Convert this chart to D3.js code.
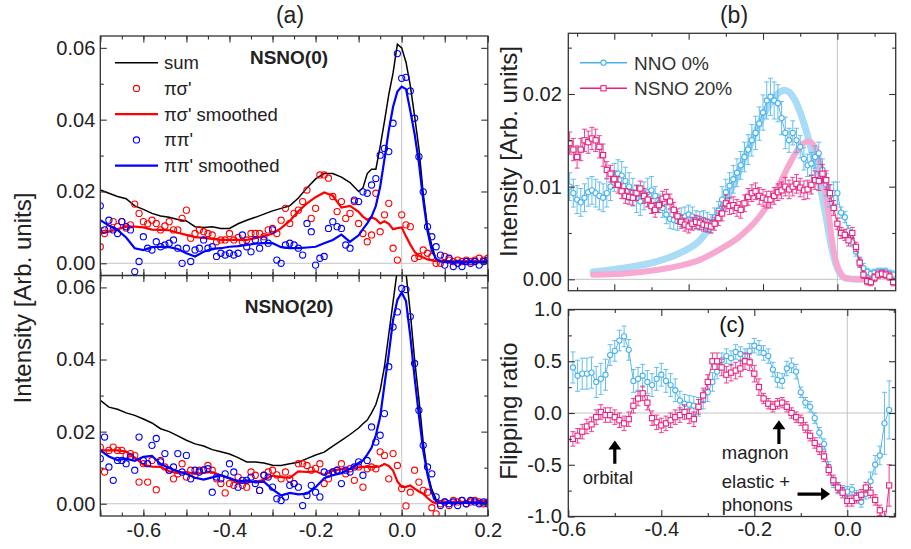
<!DOCTYPE html>
<html>
<head>
<meta charset="utf-8">
<script src="https://cdnjs.cloudflare.com/ajax/libs/d3/7.8.5/d3.min.js"></script>
<style>
body { margin: 0; background: #fff; }
svg { font-family: "Liberation Sans", Arial, sans-serif; }
</style>
</head>
<body>
<svg id="chart" width="911" height="549"></svg>
<script>
// ---------- panel (a): energy grid of the scans and the data ----------
const energyA = d3.range(-70, 21).map(v => v / 100);

const psTop = [0.0046,0.0083,0.0097,0.0116,0.0102,0.0116,0.0098,0.0107,0.0165,0.0139,
  0.0116,0.0110,0.0120,0.0111,0.0093,0.0104,0.0116,0.0093,0.0093,0.0125,
  0.0148,0.0070,0.0083,0.0093,0.0088,0.0083,0.0079,0.0060,0.0065,0.0065,
  0.0083,0.0065,0.0072,0.0060,0.0065,0.0083,0.0083,0.0083,0.0074,0.0093,
  0.0097,0.0083,0.0120,0.0153,0.0111,0.0139,0.0148,0.0172,0.0204,0.0125,
  0.0153,0.0246,0.0246,0.0237,0.0186,0.0144,0.0172,0.0125,0.0139,0.0172,
  0.0111,0.0083,0.0060,0.0079,0.0195,0.0088,0.0135,0.0167,0.0042,0.0009,
  0.0135,0.0107,0.0102,0.0014,0.0019,0.0037,0.0028,0.0019,0.0000,0.0000,
  0.0019,0.0009,0.0005,0.0009,0.0005,0.0009,0.0005,0.0009,0.0014,0.0009,
  0.0014];
const ppTop = [0.0160,0.0093,0.0120,0.0093,0.0083,0.0116,0.0102,0.0093,-0.0023,0.0005,
  0.0074,0.0042,0.0037,0.0060,0.0046,0.0051,0.0056,0.0065,0.0042,0.0000,
  0.0042,0.0005,0.0037,0.0042,0.0065,0.0042,0.0046,0.0019,0.0028,0.0023,
  0.0028,0.0023,0.0028,0.0079,0.0046,0.0032,0.0065,0.0042,0.0065,0.0056,
  0.0093,0.0009,0.0000,0.0051,0.0056,0.0051,0.0042,0.0023,0.0111,0.0088,
  -0.0005,0.0014,0.0019,0.0097,0.0116,0.0102,0.0097,0.0051,0.0042,0.0176,
  0.0172,0.0199,0.0195,0.0218,0.0236,0.0301,0.0320,0.0311,0.0390,0.0584,
  0.0515,0.0518,0.0480,0.0404,0.0297,0.0199,0.0102,0.0074,0.0046,0.0023,
  -0.0005,0.0014,-0.0009,0.0000,-0.0009,0.0005,0.0000,0.0005,-0.0005,0.0005,
  0.0009];
const psBot = [0.0157,0.0088,0.0148,0.0157,0.0148,0.0148,0.0134,0.0139,0.0134,0.0060,
  0.0111,0.0060,0.0120,0.0039,0.0120,0.0102,0.0093,0.0069,0.0083,0.0111,
  0.0074,0.0093,0.0079,0.0093,0.0093,0.0106,0.0093,0.0069,0.0056,0.0030,
  0.0056,0.0051,0.0074,0.0051,0.0046,0.0088,0.0079,0.0037,0.0079,0.0088,
  0.0093,0.0080,0.0069,0.0088,0.0069,0.0056,0.0111,0.0111,0.0106,0.0093,
  0.0098,0.0111,0.0056,0.0069,0.0088,0.0093,0.0111,0.0083,0.0097,0.0065,
  0.0102,0.0046,0.0097,0.0102,0.0097,0.0144,0.0134,0.0069,0.0139,0.0106,
  0.0042,-0.0006,0.0032,0.0093,0.0060,0.0037,0.0032,-0.0011,-0.0028,0.0000,
  0.0005,-0.0005,0.0009,0.0005,0.0009,0.0000,0.0005,0.0009,0.0005,0.0000,
  0.0005];
const ppBot = [0.0125,0.0185,0.0102,0.0065,0.0120,0.0120,0.0111,0.0130,0.0093,0.0185,
  0.0120,0.0111,0.0162,0.0181,0.0116,0.0139,0.0093,0.0102,0.0139,0.0088,
  0.0134,0.0069,0.0093,0.0088,0.0094,0.0097,0.0032,0.0074,0.0069,0.0083,
  0.0111,0.0088,0.0046,0.0065,0.0065,0.0074,0.0056,0.0037,0.0079,0.0074,
  0.0046,0.0014,0.0009,0.0019,0.0051,0.0056,0.0046,-0.0005,0.0023,0.0051,
  0.0032,0.0019,0.0088,0.0083,0.0088,0.0093,0.0056,0.0093,0.0088,0.0102,
  0.0116,0.0079,0.0120,0.0213,0.0171,0.0190,0.0250,0.0380,0.0490,0.0532,
  0.0597,0.0594,0.0519,0.0389,0.0259,0.0162,0.0102,0.0083,0.0019,-0.0005,
  0.0005,0.0000,0.0005,-0.0005,0.0009,0.0000,0.0009,0.0005,0.0000,0.0005,
  0.0000];

// sum and smoothed curves, sampled on this energy list
const lineX = [-0.70,-0.68,-0.66,-0.64,-0.62,-0.60,-0.58,-0.56,-0.54,-0.52,
  -0.50,-0.48,-0.46,-0.44,-0.42,-0.40,-0.38,-0.36,-0.34,-0.32,
  -0.30,-0.28,-0.26,-0.24,-0.22,-0.20,-0.18,-0.16,-0.14,-0.12,
  -0.10,-0.09,-0.08,-0.07,-0.06,-0.05,-0.04,-0.03,-0.02,-0.01,
  0.00,0.01,0.02,0.03,0.04,0.05,0.06,0.07,0.08,0.09,
  0.10,0.12,0.14,0.16,0.18,0.20];
const sumTop = [0.0204,0.0195,0.0186,0.0180,0.0160,0.0150,0.0139,0.0132,0.0128,0.0122,
  0.0118,0.0102,0.0100,0.0102,0.0097,0.0097,0.0110,0.0120,0.0128,0.0137,
  0.0146,0.0153,0.0160,0.0182,0.0210,0.0235,0.0250,0.0250,0.0240,0.0225,
  0.0200,0.0210,0.0250,0.0262,0.0262,0.0325,0.0395,0.0470,0.0530,0.0610,
  0.0600,0.0560,0.0495,0.0410,0.0320,0.0195,0.0100,0.0050,0.0010,0.0008,
  0.0008,0.0006,0.0006,0.0006,0.0007,0.0007];
const psSmTop = [0.0083,0.0088,0.0095,0.0102,0.0102,0.0100,0.0094,0.0093,0.0092,0.0085,
  0.0079,0.0073,0.0071,0.0068,0.0065,0.0065,0.0065,0.0065,0.0070,0.0076,
  0.0082,0.0098,0.0118,0.0145,0.0167,0.0184,0.0197,0.0188,0.0155,0.0160,
  0.0143,0.0130,0.0121,0.0128,0.0123,0.0111,0.0117,0.0110,0.0095,0.0098,
  0.0100,0.0075,0.0052,0.0032,0.0021,0.0016,0.0011,0.0008,0.0006,0.0006,
  0.0005,0.0005,0.0005,0.0006,0.0006,0.0006];
const ppSmTop = [0.0120,0.0105,0.0093,0.0072,0.0042,0.0037,0.0045,0.0046,0.0045,0.0040,
  0.0028,0.0019,0.0032,0.0040,0.0042,0.0046,0.0048,0.0051,0.0055,0.0056,
  0.0056,0.0045,0.0042,0.0042,0.0044,0.0046,0.0056,0.0065,0.0080,0.0060,
  0.0078,0.0095,0.0111,0.0130,0.0160,0.0213,0.0290,0.0370,0.0436,0.0478,
  0.0492,0.0485,0.0425,0.0360,0.0280,0.0176,0.0090,0.0035,0.0012,0.0005,
  0.0004,0.0003,0.0003,0.0003,0.0003,0.0004];
const sumBot = [0.0287,0.0268,0.0262,0.0252,0.0245,0.0235,0.0224,0.0208,0.0200,0.0188,
  0.0176,0.0166,0.0160,0.0150,0.0144,0.0138,0.0128,0.0116,0.0116,0.0113,
  0.0107,0.0106,0.0111,0.0115,0.0125,0.0135,0.0143,0.0160,0.0176,0.0192,
  0.0210,0.0222,0.0232,0.0252,0.0275,0.0315,0.0380,0.0470,0.0560,0.0650,
  0.0690,0.0640,0.0530,0.0400,0.0290,0.0170,0.0085,0.0040,0.0012,0.0008,
  0.0006,0.0005,0.0005,0.0005,0.0005,0.0005];
const psSmBot = [0.0148,0.0148,0.0148,0.0145,0.0128,0.0108,0.0103,0.0102,0.0090,0.0085,
  0.0088,0.0083,0.0086,0.0088,0.0079,0.0070,0.0058,0.0060,0.0061,0.0066,
  0.0078,0.0074,0.0072,0.0090,0.0088,0.0090,0.0080,0.0092,0.0096,0.0097,
  0.0101,0.0102,0.0102,0.0102,0.0102,0.0104,0.0110,0.0105,0.0092,0.0062,
  0.0047,0.0047,0.0051,0.0042,0.0034,0.0028,0.0016,0.0006,0.0001,0.0003,
  0.0005,0.0005,0.0005,0.0005,0.0005,0.0005];
const ppSmBot = [0.0148,0.0131,0.0121,0.0125,0.0119,0.0130,0.0133,0.0110,0.0099,0.0090,
  0.0083,0.0072,0.0067,0.0073,0.0079,0.0071,0.0062,0.0065,0.0059,0.0061,
  0.0040,0.0023,0.0030,0.0026,0.0028,0.0046,0.0071,0.0079,0.0085,0.0097,
  0.0113,0.0120,0.0136,0.0155,0.0190,0.0241,0.0330,0.0415,0.0510,0.0565,
  0.0586,0.0562,0.0465,0.0350,0.0245,0.0148,0.0080,0.0030,0.0007,0.0002,
  0.0002,0.0002,0.0002,0.0002,0.0002,0.0002];

// ---------- panel (b) ----------
const energyB = d3.range(-72, 16).map(v => v / 100);
const nnoB = [0.0100,0.0093,0.0086,0.0083,0.0088,0.0094,0.0096,0.0093,0.0090,0.0088,
  0.0093,0.0100,0.0110,0.0114,0.0112,0.0106,0.0100,0.0094,0.0087,0.0084,
  0.0090,0.0094,0.0096,0.0090,0.0082,0.0077,0.0070,0.0065,0.0064,0.0063,
  0.0067,0.0068,0.0070,0.0068,0.0064,0.0063,0.0064,0.0062,0.0060,0.0067,
  0.0074,0.0086,0.0094,0.0101,0.0108,0.0115,0.0123,0.0132,0.0140,0.0150,
  0.0158,0.0168,0.0180,0.0193,0.0197,0.0193,0.0190,0.0174,0.0158,0.0150,
  0.0158,0.0150,0.0143,0.0130,0.0123,0.0125,0.0132,0.0136,0.0118,0.0102,
  0.0090,0.0093,0.0093,0.0072,0.0067,0.0052,0.0040,0.0030,0.0019,0.0012,
  0.0008,0.0006,0.0007,0.0008,0.0008,0.0008,0.0006,0.0005];
const nnoBErr = [0.0015,0.0015,0.0015,0.0015,0.0015,0.0015,0.0015,0.0015,0.0015,0.0015,
  0.0015,0.0015,0.0015,0.0015,0.0015,0.0015,0.0015,0.0015,0.0015,0.0015,
  0.0015,0.0015,0.0015,0.0010,0.0010,0.0010,0.0010,0.0010,0.0010,0.0010,
  0.0010,0.0010,0.0010,0.0010,0.0010,0.0010,0.0010,0.0010,0.0010,0.0010,
  0.0010,0.0014,0.0014,0.0014,0.0015,0.0015,0.0015,0.0016,0.0016,0.0017,
  0.0018,0.0018,0.0019,0.0020,0.0020,0.0020,0.0020,0.0018,0.0017,0.0013,
  0.0013,0.0013,0.0012,0.0012,0.0012,0.0012,0.0012,0.0012,0.0012,0.0012,
  0.0012,0.0012,0.0012,0.0006,0.0006,0.0006,0.0005,0.0005,0.0005,0.0005,
  0.0004,0.0004,0.0004,0.0004,0.0004,0.0004,0.0004,0.0004];
const nsnoB = [0.0147,0.0140,0.0132,0.0140,0.0150,0.0148,0.0152,0.0150,0.0143,0.0134,
  0.0118,0.0114,0.0108,0.0102,0.0095,0.0090,0.0089,0.0088,0.0093,0.0098,
  0.0090,0.0086,0.0079,0.0075,0.0080,0.0087,0.0089,0.0084,0.0075,0.0068,
  0.0062,0.0059,0.0057,0.0060,0.0062,0.0061,0.0059,0.0058,0.0057,0.0060,
  0.0066,0.0071,0.0082,0.0079,0.0080,0.0077,0.0075,0.0082,0.0089,0.0093,
  0.0095,0.0090,0.0088,0.0086,0.0086,0.0090,0.0094,0.0096,0.0100,0.0097,
  0.0100,0.0103,0.0099,0.0096,0.0097,0.0102,0.0107,0.0106,0.0114,0.0107,
  0.0093,0.0077,0.0060,0.0050,0.0048,0.0042,0.0050,0.0035,0.0018,0.0005,
  -0.0002,-0.0003,0.0002,0.0005,0.0006,0.0005,0.0003,-0.0003];
const nsnoBErr = [0.0012,0.0012,0.0012,0.0012,0.0012,0.0012,0.0012,0.0012,0.0012,0.0012,
  0.0009,0.0009,0.0009,0.0009,0.0008,0.0008,0.0008,0.0008,0.0008,0.0008,
  0.0008,0.0008,0.0008,0.0008,0.0008,0.0008,0.0008,0.0008,0.0008,0.0008,
  0.0007,0.0007,0.0007,0.0007,0.0007,0.0007,0.0007,0.0007,0.0007,0.0007,
  0.0008,0.0008,0.0009,0.0009,0.0009,0.0009,0.0009,0.0009,0.0009,0.0009,
  0.0009,0.0009,0.0009,0.0009,0.0009,0.0009,0.0009,0.0009,0.0010,0.0010,
  0.0010,0.0010,0.0010,0.0010,0.0010,0.0010,0.0010,0.0010,0.0010,0.0010,
  0.0009,0.0008,0.0006,0.0006,0.0006,0.0006,0.0006,0.0005,0.0005,0.0004,
  0.0004,0.0004,0.0004,0.0004,0.0004,0.0004,0.0004,0.0004];
const nnoFitX = [-0.657,-0.577,-0.487,-0.420,-0.370,-0.326,-0.281,-0.236,-0.191,-0.164,
  -0.142,-0.115,-0.093,-0.070,-0.052,-0.034,-0.016,0.002,0.024,0.060,0.100];
const nnoFitY = [0.0008,0.0012,0.0019,0.0029,0.0042,0.0067,0.0101,0.0144,0.0183,0.0199,
  0.0204,0.0194,0.0172,0.0140,0.0111,0.0075,0.0035,0.0010,0.0001,0.0000,0.0000];
const nsnoFitX = [-0.657,-0.577,-0.487,-0.420,-0.370,-0.317,-0.263,-0.209,-0.164,-0.128,
  -0.101,-0.079,-0.061,-0.043,-0.025,-0.012,0.002,0.024,0.060,0.100];
const nsnoFitY = [0.0005,0.0006,0.0010,0.0015,0.0021,0.0032,0.0046,0.0068,0.0096,0.0125,
  0.0143,0.0149,0.0143,0.0118,0.0075,0.0035,0.0012,0.0001,0.0000,0.0000];

// ---------- panel (c): flipping ratio ----------
const energyC = d3.range(-59, 10).map(v => v / 100);
const nnoC = [0.44,0.36,0.38,0.38,0.39,0.30,0.33,0.37,0.56,0.60,
  0.70,0.74,0.61,0.31,0.33,0.36,0.30,0.27,0.33,0.37,
  0.31,0.27,0.22,0.12,0.09,0.08,0.07,0.06,0.13,0.20,
  0.30,0.40,0.51,0.55,0.53,0.59,0.57,0.55,0.60,0.65,
  0.63,0.58,0.55,0.42,0.32,0.31,0.43,0.46,0.40,0.20,
  0.10,0.06,-0.05,-0.19,-0.30,-0.52,-0.67,-0.73,-0.75,-0.76,
  -0.74,-0.80,-0.86,-0.78,-0.66,-0.50,-0.41,-0.10,0.03];
const nnoCErr = [0.15,0.15,0.15,0.15,0.15,0.15,0.15,0.15,0.10,0.10,
  0.10,0.10,0.10,0.11,0.11,0.11,0.11,0.11,0.11,0.11,
  0.11,0.11,0.11,0.09,0.09,0.09,0.09,0.09,0.09,0.09,
  0.09,0.07,0.07,0.07,0.07,0.07,0.07,0.07,0.07,0.07,
  0.07,0.07,0.07,0.07,0.07,0.07,0.07,0.07,0.07,0.05,
  0.05,0.05,0.05,0.05,0.05,0.05,0.05,0.05,0.05,0.05,
  0.05,0.05,0.05,0.05,0.09,0.09,0.09,0.30,0.28];
const nsnoC = [-0.25,-0.22,-0.18,-0.13,-0.11,-0.04,0.01,-0.02,-0.02,-0.04,
  -0.07,-0.10,-0.06,0.07,0.14,0.19,0.10,-0.05,-0.09,-0.12,
  -0.10,-0.07,-0.04,-0.02,0.01,-0.03,-0.06,0.06,0.17,0.30,
  0.50,0.50,0.44,0.37,0.39,0.41,0.43,0.50,0.49,0.38,
  0.25,0.14,0.09,0.06,0.09,0.10,0.06,0.00,-0.04,-0.07,
  -0.14,-0.22,-0.29,-0.35,-0.42,-0.55,-0.65,-0.72,-0.77,-0.85,
  -0.85,-0.82,-0.79,-0.72,-0.77,-0.84,-0.94,-1.10,-0.70];
const nsnoCErr = [0.07,0.07,0.07,0.07,0.07,0.07,0.07,0.07,0.07,0.07,
  0.07,0.07,0.07,0.07,0.07,0.07,0.07,0.07,0.07,0.07,
  0.07,0.07,0.07,0.07,0.07,0.07,0.07,0.07,0.07,0.07,
  0.08,0.08,0.08,0.08,0.08,0.08,0.08,0.08,0.08,0.08,
  0.08,0.05,0.05,0.05,0.05,0.05,0.05,0.05,0.05,0.05,
  0.05,0.05,0.05,0.05,0.05,0.05,0.05,0.05,0.05,0.05,
  0.05,0.05,0.05,0.05,0.05,0.05,0.05,0.15,0.20];

// ---------- tick labels ----------
const aXLabelVals = [-0.6, -0.4, -0.2, 0.0, 0.2];
const aXLabels = ["-0.6", "-0.4", "-0.2", "0.0", "0.2"];
const aYLabelVals = [0, 0.02, 0.04, 0.06];
const aYLabels = ["0.00", "0.02", "0.04", "0.06"];
const bYLabelVals = [0, 0.01, 0.02];
const bYLabels = ["0.00", "0.01", "0.02"];
const cXLabelVals = [-0.6, -0.4, -0.2, 0.0];
const cXLabels = ["-0.6", "-0.4", "-0.2", "0.0"];
const cYLabelVals = [-1, -0.5, 0, 0.5, 1];
const cYLabels = ["-1.0", "-0.5", "0.0", "0.5", "1.0"];

const RED = "#ff0000", BLUE = "#0000ff";
const SKY = "#4ab3ec", MAG = "#e8217f";
const SKY_FIT = "#aadcf7", MAG_FIT = "#f7a9d1";
const TXT = "#222";

const svg = d3.select("#chart");
svg.append("rect").attr("width", 911).attr("height", 549).attr("fill", "#fff");

function makePanel(box, xDom, yDom, id) {
  const x = d3.scaleLinear().domain(xDom).range([box.left, box.right]);
  const y = d3.scaleLinear().domain(yDom).range([box.bottom, box.top]);
  svg.append("clipPath").attr("id", id).append("rect")
    .attr("x", box.left).attr("y", box.top)
    .attr("width", box.right - box.left).attr("height", box.bottom - box.top);
  const zero = svg.append("g").attr("stroke", "#c4c4c4").attr("stroke-width", 1);
  zero.append("line").attr("x1", x(0)).attr("x2", x(0)).attr("y1", box.top).attr("y2", box.bottom);
  zero.append("line").attr("x1", box.left).attr("x2", box.right).attr("y1", y(0)).attr("y2", y(0));
  const plot = svg.append("g").attr("clip-path", `url(#${id})`);
  return { x, y, box, plot };
}

function drawAxes(p, t) {
  const { x, y, box } = p;
  const a = svg.append("g");
  const sides = [
    [d3.axisBottom, x, `translate(0,${box.bottom})`, "x", true],
    [d3.axisTop, x, `translate(0,${box.top})`, "x", false],
    [d3.axisLeft, y, `translate(${box.left},0)`, "y", true],
    [d3.axisRight, y, `translate(${box.right},0)`, "y", false]
  ];
  sides.forEach(([fn, sc, tr, dir, labelled]) => {
    a.append("g").attr("transform", tr)
      .call(fn(sc).tickValues(t[dir + "Minor"]).tickSize(-3.5).tickFormat(""));
    a.append("g").attr("transform", tr)
      .call(fn(sc).tickValues(t[dir + "Major"]).tickSize(-6.5).tickFormat(""));
    if (labelled && t[dir + "Labels"]) {
      const labels = t[dir + "Labels"];
      a.append("g").attr("transform", tr)
        .call(fn(sc).tickValues(t[dir + "LabelVals"]).tickSize(0)
          .tickPadding(t[dir + "Pad"]).tickFormat((d, i) => labels[i]));
    }
  });
  a.selectAll(".domain").remove();
  a.selectAll("line").attr("stroke", "#333").attr("stroke-width", 1.1);
  a.selectAll("text").attr("fill", TXT).attr("font-size", 20)
    .attr("font-family", '"Liberation Sans", Arial, sans-serif');
  a.append("rect").attr("x", box.left).attr("y", box.top)
    .attr("width", box.right - box.left).attr("height", box.bottom - box.top)
    .attr("fill", "none").attr("stroke", "#333").attr("stroke-width", 1.3);
}

// ---------- panel (a) ----------
const aX = [-0.7, 0.2], aY = [-0.0034, 0.0633];
const aTicks = {
  xMajor: d3.range(-7, 3).map(v => v / 10),
  xMinor: d3.range(-14, 5).map(v => v / 20),
  yMajor: [0, 0.02, 0.04, 0.06],
  yMinor: [0.01, 0.03, 0.05],
  yLabelVals: aYLabelVals, yLabels: aYLabels, yPad: 5,
  xLabelVals: aXLabelVals, xPad: 7
};

function drawA(p, ps, pp, sum, psSm, ppSm) {
  const line = d3.line().x((d, i) => p.x(lineX[i])).y(d => p.y(d));
  p.plot.append("path").datum(sum).attr("d", line)
    .attr("fill", "none").attr("stroke", "#000").attr("stroke-width", 1.5);
  p.plot.append("g").selectAll("circle").data(ps).join("circle")
    .attr("cx", (d, i) => p.x(energyA[i])).attr("cy", d => p.y(d)).attr("r", 3.1)
    .attr("fill", "none").attr("stroke", RED).attr("stroke-width", 1.1);
  p.plot.append("path").datum(psSm).attr("d", line)
    .attr("fill", "none").attr("stroke", RED).attr("stroke-width", 2.2);
  p.plot.append("g").selectAll("circle").data(pp).join("circle")
    .attr("cx", (d, i) => p.x(energyA[i])).attr("cy", d => p.y(d)).attr("r", 3.1)
    .attr("fill", "none").attr("stroke", BLUE).attr("stroke-width", 1.1);
  p.plot.append("path").datum(ppSm).attr("d", line)
    .attr("fill", "none").attr("stroke", BLUE).attr("stroke-width", 2.2);
}

const pTop = makePanel({ left: 100.3, right: 487.8, top: 36, bottom: 275.5 }, aX, aY, "clipTop");
drawA(pTop, psTop, ppTop, sumTop, psSmTop, ppSmTop);
drawAxes(pTop, Object.assign({}, aTicks, { xLabels: null }));

const pBot = makePanel({ left: 100.3, right: 487.8, top: 275.5, bottom: 516 }, aX, aY, "clipBot");
drawA(pBot, psBot, ppBot, sumBot, psSmBot, ppSmBot);
drawAxes(pBot, Object.assign({}, aTicks, { xLabels: aXLabels }));

// legend of (a)
const legA = [
  { name: "sum", color: "#000", line: true, dot: false, w: 1.5 },
  { name: "\u03c0\u03c3'", color: RED, line: false, dot: true },
  { name: "\u03c0\u03c3' smoothed", color: RED, line: true, dot: false, w: 2.2 },
  { name: "\u03c0\u03c0'", color: BLUE, line: false, dot: true },
  { name: "\u03c0\u03c0' smoothed", color: BLUE, line: true, dot: false, w: 2.2 }
];
legA.forEach((d, i) => {
  const cy = 62.7 + i * 25.75;
  if (d.line) svg.append("line").attr("x1", 115).attr("x2", 158).attr("y1", cy).attr("y2", cy)
    .attr("stroke", d.color).attr("stroke-width", d.w);
  if (d.dot) svg.append("circle").attr("cx", 136.5).attr("cy", cy).attr("r", 3.1)
    .attr("fill", "none").attr("stroke", d.color).attr("stroke-width", 1.1);
  svg.append("text").attr("x", 164).attr("y", cy + 6.5).attr("font-size", 18.5)
    .attr("fill", TXT).text(d.name);
});
svg.append("text").attr("x", 289).attr("y", 63.5).attr("text-anchor", "middle")
  .attr("font-size", 19).attr("font-weight", "bold").attr("fill", TXT).text("NSNO(0)");
svg.append("text").attr("x", 289).attr("y", 313).attr("text-anchor", "middle")
  .attr("font-size", 19).attr("font-weight", "bold").attr("fill", TXT).text("NSNO(20)");

// ---------- panel (b) ----------
const pB = makePanel({ left: 568.3, right: 895.7, top: 33.3, bottom: 290.7 },
  [-0.7236, 0.1568], [-0.00123, 0.02655], "clipB");
const fitLine = (xs) => d3.line().curve(d3.curveMonotoneX).x((d, i) => pB.x(xs[i])).y(d => pB.y(d));
pB.plot.append("path").datum(nnoFitY).attr("d", fitLine(nnoFitX))
  .attr("fill", "none").attr("stroke", SKY_FIT).attr("stroke-width", 7).attr("stroke-linecap", "round");
pB.plot.append("path").datum(nsnoFitY).attr("d", fitLine(nsnoFitX))
  .attr("fill", "none").attr("stroke", MAG_FIT).attr("stroke-width", 6).attr("stroke-linecap", "round");

function drawSeries(p, xs, ys, errs, color, shape) {
  const g = p.plot.append("g");
  const line = d3.line().x((d, i) => p.x(xs[i])).y(d => p.y(d));
  g.append("path").datum(ys).attr("d", line).attr("fill", "none")
    .attr("stroke", color).attr("stroke-width", 1).attr("opacity", 0.9);
  const eb = g.append("g").attr("stroke", color).attr("stroke-width", 1).attr("opacity", 0.85);
  ys.forEach((v, i) => {
    const cx = p.x(xs[i]), y1 = p.y(v - errs[i]), y2 = p.y(v + errs[i]);
    eb.append("line").attr("x1", cx).attr("x2", cx).attr("y1", y1).attr("y2", y2);
    eb.append("line").attr("x1", cx - 2.5).attr("x2", cx + 2.5).attr("y1", y1).attr("y2", y1);
    eb.append("line").attr("x1", cx - 2.5).attr("x2", cx + 2.5).attr("y1", y2).attr("y2", y2);
  });
  if (shape === "circle") {
    g.append("g").selectAll("circle").data(ys).join("circle")
      .attr("cx", (d, i) => p.x(xs[i])).attr("cy", d => p.y(d)).attr("r", 2.6)
      .attr("fill", "#fff").attr("stroke", color).attr("stroke-width", 1.1);
  } else {
    g.append("g").selectAll("rect").data(ys).join("rect")
      .attr("x", (d, i) => p.x(xs[i]) - 2.6).attr("y", d => p.y(d) - 2.6)
      .attr("width", 5.2).attr("height", 5.2)
      .attr("fill", "#fff").attr("stroke", color).attr("stroke-width", 1.1);
  }
}
drawSeries(pB, energyB, nnoB, nnoBErr, SKY, "circle");
drawSeries(pB, energyB, nsnoB, nsnoBErr, MAG, "square");
drawAxes(pB, {
  xMajor: [-0.6, -0.4, -0.2, 0.0],
  xMinor: [-0.7, -0.5, -0.3, -0.1, 0.1],
  yMajor: [0, 0.01, 0.02],
  yMinor: [0.005, 0.015, 0.025],
  yLabelVals: bYLabelVals, yLabels: bYLabels, yPad: 6.5,
  xLabels: null
});

// legend of (b)
[{ name: "NNO 0%", color: SKY, shape: "circle" }, { name: "NSNO 20%", color: MAG, shape: "square" }]
  .forEach((d, i) => {
    const cy = 62.7 + i * 25.6;
    svg.append("line").attr("x1", 580).attr("x2", 627).attr("y1", cy).attr("y2", cy)
      .attr("stroke", d.color).attr("stroke-width", 1.5);
    if (d.shape === "circle") svg.append("circle").attr("cx", 603.5).attr("cy", cy).attr("r", 2.6)
      .attr("fill", "#fff").attr("stroke", d.color).attr("stroke-width", 1.1);
    else svg.append("rect").attr("x", 600.9).attr("y", cy - 2.6).attr("width", 5.2).attr("height", 5.2)
      .attr("fill", "#fff").attr("stroke", d.color).attr("stroke-width", 1.1);
    svg.append("text").attr("x", 634).attr("y", cy + 7).attr("font-size", 19)
      .attr("fill", "#333").text(d.name);
  });

// ---------- panel (c) ----------
const pC = makePanel({ left: 568.3, right: 895.5, top: 309.5, bottom: 516.5 },
  [-0.6, 0.1037], [-1, 1], "clipC");
drawSeries(pC, energyC, nnoC, nnoCErr, SKY, "circle");
drawSeries(pC, energyC, nsnoC, nsnoCErr, MAG, "square");
drawAxes(pC, {
  xMajor: [-0.6, -0.4, -0.2, 0.0],
  xMinor: [-0.5, -0.3, -0.1, 0.1],
  yMajor: [-1, -0.5, 0, 0.5, 1],
  yMinor: [-0.75, -0.25, 0.25, 0.75],
  yLabelVals: cYLabelVals, yLabels: cYLabels, yPad: 6.5,
  xLabelVals: cXLabelVals, xLabels: cXLabels, xPad: 5
});

function arrow(x1, y1, x2, y2) {
  const ang = Math.atan2(y2 - y1, x2 - x1) * 180 / Math.PI;
  const len = Math.hypot(x2 - x1, y2 - y1);
  const hl = 9, hw = 6.5, sw = 1.6;
  svg.append("path")
    .attr("transform", `translate(${x1},${y1}) rotate(${ang})`)
    .attr("d", `M0,${-sw}L${len - hl},${-sw}L${len - hl},${-hw}L${len},0L${len - hl},${hw}L${len - hl},${sw}L0,${sw}Z`)
    .attr("fill", "#000");
}
arrow(pC.x(-0.5), pC.y(-0.49), pC.x(-0.5), pC.y(-0.265));
arrow(pC.x(-0.147), pC.y(-0.30), pC.x(-0.147), pC.y(-0.07));
arrow(pC.x(-0.107), pC.y(-0.783), pC.x(-0.037), pC.y(-0.783));

const notes = [
  { t: "orbital", x: -0.569, y: -0.689 },
  { t: "magnon", x: -0.270, y: -0.447 },
  { t: "elastic +", x: -0.270, y: -0.728 },
  { t: "phonons", x: -0.270, y: -0.951 }
];
notes.forEach(n => svg.append("text").attr("x", pC.x(n.x)).attr("y", pC.y(n.y))
  .attr("font-size", 18.5).attr("fill", TXT).text(n.t));
svg.append("text").attr("x", pC.x(-0.248)).attr("y", pC.y(0.78)).attr("text-anchor", "middle")
  .attr("font-size", 22).attr("fill", "#111").text("(c)");

// ---------- titles ----------
svg.append("text").attr("x", 290).attr("y", 23).attr("text-anchor", "middle")
  .attr("font-size", 23).attr("fill", TXT).text("(a)");
svg.append("text").attr("x", 734).attr("y", 23).attr("text-anchor", "middle")
  .attr("font-size", 23).attr("fill", TXT).text("(b)");
[[31, 298, "Intensity [Arb. units]"], [517, 151.5, "Intensity [Arb. units]"], [517, 411, "Flipping ratio"]]
  .forEach(([x, y, s]) => svg.append("text")
    .attr("transform", `translate(${x},${y}) rotate(-90)`).attr("text-anchor", "middle")
    .attr("font-size", 24).attr("fill", TXT).text(s));
</script>
</body>
</html>
